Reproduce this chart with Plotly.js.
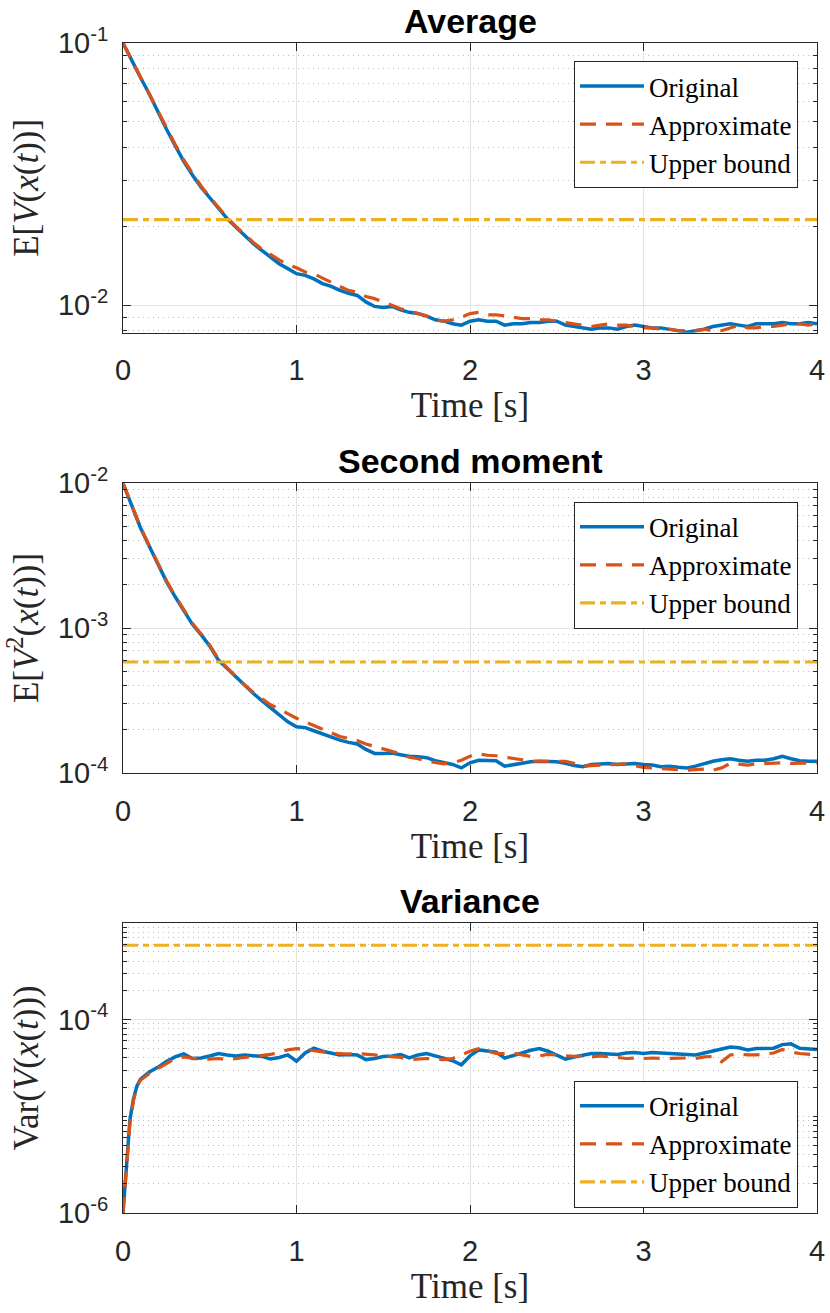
<!DOCTYPE html>
<html>
<head>
<meta charset="utf-8">
<script src="https://cdn.plot.ly/plotly-3.0.1.min.js"></script>
<style>body{margin:0;background:#fff}</style>
</head>
<body>
<div id="chart" style="width:830px;height:1313px"></div>
<script>
// time samples [s] (denser near t=0 where the variance shoots up)
const time = [0, 0.02, 0.04, 0.06, 0.08, 0.1,
	0.15, 0.2, 0.25, 0.3, 0.35, 0.4, 0.45, 0.5, 0.55, 0.6,
	0.65, 0.7, 0.75, 0.8, 0.85, 0.9, 0.95, 1.0, 1.05, 1.1,
	1.15, 1.2, 1.25, 1.3, 1.35, 1.4, 1.45, 1.5, 1.55, 1.6,
	1.65, 1.7, 1.75, 1.8, 1.85, 1.9, 1.95, 2.0, 2.05, 2.1,
	2.15, 2.2, 2.25, 2.3, 2.35, 2.4, 2.45, 2.5, 2.55, 2.6,
	2.65, 2.7, 2.75, 2.8, 2.85, 2.9, 2.95, 3.0, 3.05, 3.1,
	3.15, 3.2, 3.25, 3.3, 3.35, 3.4, 3.45, 3.5, 3.55, 3.6,
	3.65, 3.7, 3.75, 3.8, 3.85, 3.9, 3.95, 4.0];

// E[V(x(t))]
const avgOrig = [0.1, 0.094, 0.0885, 0.0835, 0.0785, 0.074,
	0.0642, 0.0548, 0.047, 0.0407, 0.0354, 0.0314, 0.0282, 0.0257, 0.0234, 0.0214,
	0.0199, 0.0185, 0.0172, 0.0162, 0.0153, 0.0144, 0.0138, 0.0132, 0.013, 0.0126,
	0.0121, 0.0118, 0.0114, 0.0111, 0.0109, 0.0103, 0.0099, 0.0098, 0.0099, 0.0096,
	0.0094, 0.0093, 0.0091, 0.0088, 0.0087, 0.0085, 0.0084, 0.0087, 0.0088, 0.0087,
	0.0087, 0.0084, 0.0085, 0.0085, 0.0086, 0.0086, 0.0087, 0.0087, 0.0084, 0.0083,
	0.0082, 0.0081, 0.0082, 0.0082, 0.0081, 0.0083, 0.0084, 0.0083, 0.0082, 0.0082,
	0.0081, 0.008, 0.0079, 0.008, 0.0081, 0.0083, 0.0084, 0.0085, 0.0084, 0.0083,
	0.0085, 0.0085, 0.0085, 0.0086, 0.0085, 0.0085, 0.0086, 0.0085];
const avgApprox = [0.1, 0.0942, 0.0887, 0.0838, 0.0789, 0.0744,
	0.0646, 0.0553, 0.0475, 0.0411, 0.0358, 0.0318, 0.0285, 0.0259, 0.0236, 0.0216,
	0.02, 0.0186, 0.0174, 0.0164, 0.0156, 0.0149, 0.0143, 0.0139, 0.0134, 0.0132,
	0.0127, 0.0122, 0.0118, 0.0114, 0.0112, 0.0108, 0.0106, 0.0103, 0.01, 0.0097,
	0.0095, 0.0093, 0.0091, 0.0088, 0.0087, 0.0088, 0.009, 0.0093, 0.0094, 0.0092,
	0.0092, 0.0091, 0.009, 0.0089, 0.0089, 0.0088, 0.0088, 0.0087, 0.0086, 0.0085,
	0.0084, 0.0083, 0.0084, 0.0085, 0.0084, 0.0084, 0.0083, 0.0082, 0.0082, 0.0081,
	0.0081, 0.008, 0.008, 0.008, 0.0081, 0.008, 0.008, 0.0082, 0.0084, 0.0082,
	0.0082, 0.0083, 0.0083, 0.0084, 0.0085, 0.0085, 0.0084, 0.0085];

// E[V^2(x(t))]
const mom2Orig = [1.0e-2, 8.7e-3, 7.6e-3, 6.6e-3, 5.7e-3, 4.95e-3,
	3.7e-3, 2.75e-3, 2.1e-3, 1.65e-3, 1.32e-3, 1.06e-3, 9.0e-4, 7.5e-4, 6.0e-4, 5.25e-4,
	4.55e-4, 4.0e-4, 3.54e-4, 3.15e-4, 2.8e-4, 2.5e-4, 2.25e-4, 2.08e-4, 2.05e-4, 1.95e-4,
	1.85e-4, 1.78e-4, 1.68e-4, 1.62e-4, 1.58e-4, 1.45e-4, 1.36e-4, 1.36e-4, 1.37e-4, 1.33e-4,
	1.3e-4, 1.29e-4, 1.27e-4, 1.21e-4, 1.18e-4, 1.14e-4, 1.08e-4, 1.17e-4, 1.22e-4, 1.21e-4,
	1.21e-4, 1.11e-4, 1.14e-4, 1.17e-4, 1.19e-4, 1.2e-4, 1.2e-4, 1.19e-4, 1.16e-4, 1.12e-4,
	1.1e-4, 1.14e-4, 1.15e-4, 1.16e-4, 1.14e-4, 1.15e-4, 1.16e-4, 1.14e-4, 1.13e-4, 1.1e-4,
	1.11e-4, 1.09e-4, 1.08e-4, 1.11e-4, 1.16e-4, 1.2e-4, 1.23e-4, 1.25e-4, 1.22e-4, 1.2e-4,
	1.22e-4, 1.22e-4, 1.25e-4, 1.3e-4, 1.25e-4, 1.21e-4, 1.2e-4, 1.2e-4];
const mom2Approx = [1.0e-2, 8.72e-3, 7.62e-3, 6.63e-3, 5.73e-3, 4.98e-3,
	3.73e-3, 2.78e-3, 2.13e-3, 1.67e-3, 1.34e-3, 1.08e-3, 9.1e-4, 7.6e-4, 6.1e-4, 5.3e-4,
	4.6e-4, 4.05e-4, 3.6e-4, 3.25e-4, 2.95e-4, 2.75e-4, 2.55e-4, 2.38e-4, 2.25e-4, 2.12e-4,
	1.98e-4, 1.88e-4, 1.78e-4, 1.73e-4, 1.67e-4, 1.58e-4, 1.52e-4, 1.47e-4, 1.42e-4, 1.35e-4,
	1.28e-4, 1.25e-4, 1.2e-4, 1.17e-4, 1.15e-4, 1.17e-4, 1.22e-4, 1.3e-4, 1.35e-4, 1.32e-4,
	1.31e-4, 1.28e-4, 1.26e-4, 1.23e-4, 1.2e-4, 1.2e-4, 1.19e-4, 1.19e-4, 1.2e-4, 1.16e-4,
	1.11e-4, 1.12e-4, 1.13e-4, 1.13e-4, 1.14e-4, 1.15e-4, 1.12e-4, 1.09e-4, 1.08e-4, 1.07e-4,
	1.07e-4, 1.05e-4, 1.04e-4, 1.05e-4, 1.06e-4, 1.04e-4, 1.08e-4, 1.16e-4, 1.14e-4, 1.13e-4,
	1.15e-4, 1.16e-4, 1.17e-4, 1.17e-4, 1.16e-4, 1.16e-4, 1.17e-4, 1.17e-4];

// Var(V(x(t)))
const varOrig = [1.0e-6, 3.3e-6, 9.2e-6, 1.5e-5, 2.05e-5, 2.4e-5,
	2.85e-5, 3.2e-5, 3.67e-5, 4.1e-5, 4.4e-5, 3.95e-5, 4.0e-5, 4.2e-5, 4.45e-5, 4.3e-5,
	4.2e-5, 4.3e-5, 4.25e-5, 4.15e-5, 3.9e-5, 4.05e-5, 4.3e-5, 3.7e-5, 4.5e-5, 5.05e-5,
	4.7e-5, 4.45e-5, 4.3e-5, 4.35e-5, 4.3e-5, 3.85e-5, 3.95e-5, 4.15e-5, 4.2e-5, 4.35e-5,
	4.0e-5, 4.3e-5, 4.45e-5, 4.2e-5, 3.95e-5, 3.75e-5, 3.4e-5, 4.2e-5, 4.85e-5, 4.7e-5,
	4.6e-5, 4.0e-5, 4.2e-5, 4.5e-5, 4.8e-5, 5.0e-5, 4.7e-5, 4.3e-5, 3.9e-5, 4.1e-5,
	4.3e-5, 4.45e-5, 4.45e-5, 4.4e-5, 4.35e-5, 4.5e-5, 4.55e-5, 4.45e-5, 4.55e-5, 4.5e-5,
	4.45e-5, 4.4e-5, 4.35e-5, 4.3e-5, 4.5e-5, 4.75e-5, 5.0e-5, 5.2e-5, 5.1e-5, 4.85e-5,
	5.0e-5, 5.05e-5, 5.05e-5, 5.5e-5, 5.6e-5, 5.05e-5, 4.95e-5, 4.9e-5];
const varApprox = [1.0e-6, 2.8e-6, 8.5e-6, 1.45e-5, 2.0e-5, 2.35e-5,
	2.75e-5, 3.1e-5, 3.5e-5, 3.95e-5, 4.1e-5, 3.95e-5, 3.85e-5, 3.9e-5, 3.95e-5, 3.85e-5,
	3.95e-5, 4.05e-5, 4.15e-5, 4.2e-5, 4.35e-5, 4.6e-5, 4.85e-5, 5.0e-5, 4.95e-5, 4.75e-5,
	4.6e-5, 4.5e-5, 4.45e-5, 4.4e-5, 4.45e-5, 4.4e-5, 4.3e-5, 4.2e-5, 4.1e-5, 4.05e-5,
	3.85e-5, 3.9e-5, 3.95e-5, 3.9e-5, 3.85e-5, 3.95e-5, 4.3e-5, 4.7e-5, 5.0e-5, 4.7e-5,
	4.45e-5, 4.45e-5, 4.5e-5, 4.3e-5, 4.15e-5, 4.2e-5, 4.35e-5, 4.3e-5, 4.2e-5, 4.15e-5,
	4.2e-5, 4.1e-5, 4.2e-5, 4.15e-5, 4.05e-5, 3.95e-5, 4.0e-5, 3.95e-5, 4.0e-5, 3.95e-5,
	3.98e-5, 3.95e-5, 4.0e-5, 3.95e-5, 4.1e-5, 4.15e-5, 3.65e-5, 4.3e-5, 4.4e-5, 4.3e-5,
	4.3e-5, 4.4e-5, 4.5e-5, 4.9e-5, 4.6e-5, 4.45e-5, 4.4e-5, 4.3e-5];

// constant upper bounds, drawn over the whole time span
const boundTime = [0, 4];
const avgBound = 0.0212;
const mom2Bound = 5.82e-4;
const varBound = 5.85e-4;

const xTicks = [0, 1, 2, 3, 4];
const titles = ['Average', 'Second moment', 'Variance'];
const yTitles = [
	'E[<i>V</i>(<i>x</i>(<i>t</i>))]',
	'E[<i>V</i><sup>2</sup>(<i>x</i>(<i>t</i>))]',
	'Var(<i>V</i>(<i>x</i>(<i>t</i>)))'
];
const yTickVals = [[1e-2, 1e-1], [1e-4, 1e-3, 1e-2], [1e-6, 1e-4]];
const yTickText = [
	['10<sup>-2</sup>', '10<sup>-1</sup>'],
	['10<sup>-4</sup>', '10<sup>-3</sup>', '10<sup>-2</sup>'],
	['10<sup>-6</sup>', '10<sup>-4</sup>']
];
const names = ['Original', 'Approximate', 'Upper bound'];

const BLUE = '#0072BD', ORANGE = '#D95319', YELLOW = '#EDB120';
const INK = '#262626';
const SANS = 'Liberation Sans, Arial, sans-serif';
const SERIF = 'Liberation Serif, Times New Roman, serif';

// panel placement (fraction of the plotting area)
const domains = [[0.7524, 1], [0.3763, 0.6237], [0, 0.2481]];
const yRanges = [[-2.1045, -1], [-4, -2], [-6, -3]];
const legendTops = [0.9846, 0.608, 0.1131];

// matlab style minor ticks: every m*10^k that is not a major tick
function minorTicks(range, major){
	const out = [];
	for(let k = Math.floor(range[0]); k < range[1]; k++){
		for(let m = 1; m < 10; m++){
			const v = m * Math.pow(10, k);
			const lv = Math.log10(v);
			if(lv < range[0] - 1e-6 || lv > range[1] + 1e-6) continue;
			if(major.some(M => Math.abs(Math.log10(M) - lv) < 1e-6)) continue;
			out.push(v);
		}
	}
	return out;
}

const panels = [
	{orig: avgOrig, approx: avgApprox, bound: avgBound},
	{orig: mom2Orig, approx: mom2Approx, bound: mom2Bound},
	{orig: varOrig, approx: varApprox, bound: varBound}
];

const data = [];
const layout = {
	width: 830,
	height: 1313,
	margin: {l: 123, r: 13, t: 43, b: 100},
	paper_bgcolor: '#fff',
	plot_bgcolor: '#fff',
	showlegend: true,
	annotations: []
};

panels.forEach((p, i) => {
	const sfx = i ? String(i + 1) : '';
	const common = {x: time, xaxis: 'x' + sfx, yaxis: 'y' + sfx, mode: 'lines',
		legend: 'legend' + sfx};
	data.push(Object.assign({}, common, {
		name: names[0], y: p.orig,
		line: {color: BLUE, width: 3.5}
	}));
	data.push(Object.assign({}, common, {
		name: names[1], y: p.approx,
		line: {color: ORANGE, width: 3.2, dash: '16px,10px'}
	}));
	data.push(Object.assign({}, common, {
		name: names[2], x: boundTime, y: [p.bound, p.bound],
		line: {color: YELLOW, width: 3.2, dash: '15px,5px,6px,5px'}
	}));

	layout['xaxis' + sfx] = {
		anchor: 'y' + sfx,
		domain: [0, 1],
		range: [0, 4],
		tickmode: 'array',
		tickvals: xTicks,
		ticktext: xTicks.map(String),
		ticks: 'inside', ticklen: 8, tickcolor: INK, tickwidth: 1,
		showline: true, linecolor: INK, linewidth: 1, mirror: 'ticks',
		showgrid: true, gridcolor: '#e3e3e3', gridwidth: 1,
		zeroline: false,
		automargin: false,
		ticklabelstandoff: 12,
		tickfont: {family: SANS, size: 29, color: INK},
		title: {text: 'Time [s]', standoff: 2, font: {family: SERIF, size: 35, color: INK}}
	};
	layout['yaxis' + sfx] = {
		anchor: 'x' + sfx,
		domain: domains[i],
		type: 'log',
		range: yRanges[i],
		tickmode: 'array',
		tickvals: yTickVals[i],
		ticktext: yTickText[i],
		ticks: 'inside', ticklen: 8, tickcolor: INK, tickwidth: 1,
		showline: true, linecolor: INK, linewidth: 1, mirror: 'ticks',
		showgrid: true, gridcolor: '#e3e3e3', gridwidth: 1,
		zeroline: false,
		automargin: false,
		ticklabelstandoff: 8,
		tickfont: {family: SANS, size: 29, color: INK},
		minor: {
			tickmode: 'array',
			tickvals: minorTicks(yRanges[i], yTickVals[i]),
			ticks: 'inside', ticklen: 4, tickcolor: INK,
			showgrid: true, gridcolor: '#bdbdbd', gridwidth: 1, griddash: '1px,4px'
		},
		title: {text: yTitles[i], standoff: 8, font: {family: SERIF, size: 35, color: INK}}
	};
	layout['legend' + sfx] = {
		x: 0.9726, y: legendTops[i], xanchor: 'right', yanchor: 'top',
		bgcolor: '#fff', bordercolor: INK, borderwidth: 1,
		itemwidth: 64,
		font: {family: SERIF, size: 27, color: '#000'}
	};
	layout.annotations.push({
		text: '<b>' + titles[i] + '</b>',
		xref: 'paper', yref: 'paper', x: 0.5, y: domains[i][1],
		xanchor: 'center', yanchor: 'bottom', yshift: 1, showarrow: false,
		font: {family: SANS, size: 34, color: '#000'}
	});
});

Plotly.newPlot('chart', data, layout, {displayModeBar: false, staticPlot: true});
</script>
</body>
</html>
